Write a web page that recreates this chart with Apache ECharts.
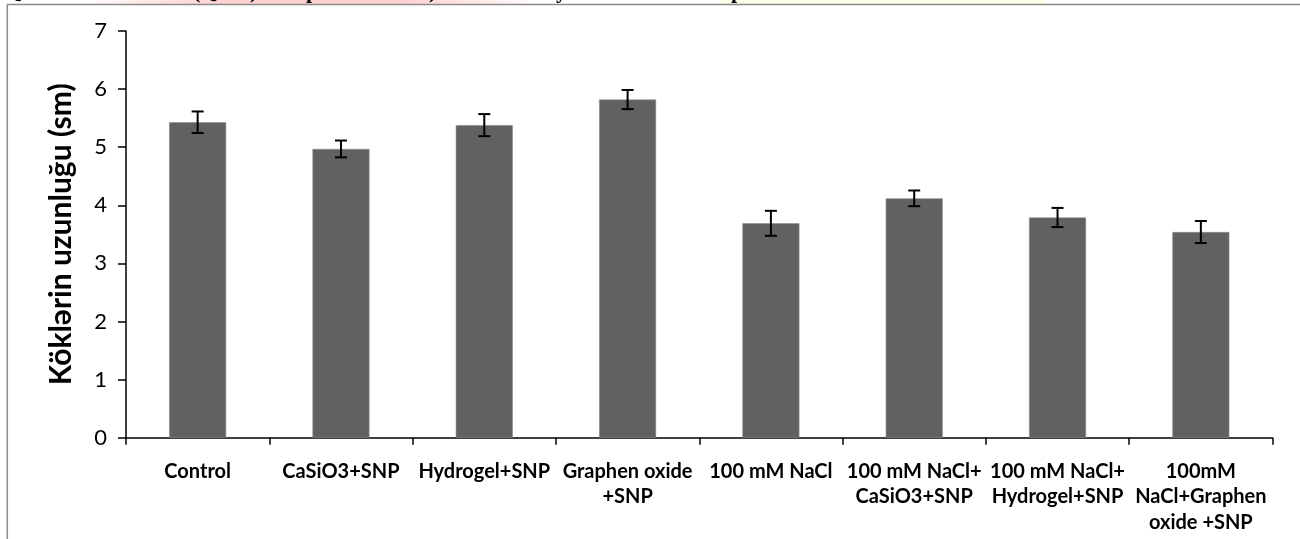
<!DOCTYPE html>
<html>
<head>
<meta charset="utf-8">
<script src="https://cdn.jsdelivr.net/npm/echarts@6/dist/echarts.min.js"></script>
<style>
html,body{margin:0;padding:0;background:#fff;}
#chart{width:1300px;height:539px;}
</style>
</head>
<body>
<div id="chart"></div>
<script>
const categories = ['Control', 'CaSiO3+SNP', 'Hydrogel+SNP', 'Graphen oxide\n+SNP', '100 mM NaCl', '100 mM NaCl+\nCaSiO3+SNP', '100 mM NaCl+\nHydrogel+SNP', '100mM\nNaCl+Graphen\noxide +SNP'];
const values = [5.43, 4.97, 5.38, 5.82, 3.69, 4.12, 3.79, 3.54];
const errors = [0.185, 0.145, 0.19, 0.165, 0.215, 0.135, 0.165, 0.19];
const yTicks = [0, 1, 2, 3, 4, 5, 6, 7];
const yTitle = 'Köklərin uzunluğu (sm)';
const headerFragments = [
  {t: 'Q', x: 5}, {t: '(Q', x: 193}, {t: ')', x: 250}, {t: 'p', x: 306},
  {t: ')', x: 429}, {t: 'y', x: 556}, {t: 'p', x: 731}
];

const chart = echarts.init(document.getElementById('chart'), null, {renderer: 'canvas'});
const FONT = 'Lato, "Open Sans", sans-serif';

const graphics = [
  {type: 'rect', silent: true, z: 0, shape: {x: 80, y: 0, width: 462, height: 5},
   style: {fill: new echarts.graphic.LinearGradient(0, 0, 1, 0, [
     {offset: 0, color: 'rgba(255,200,200,0)'},
     {offset: 0.3, color: 'rgba(255,205,205,0.9)'},
     {offset: 0.7, color: 'rgba(255,205,205,0.9)'},
     {offset: 1, color: 'rgba(255,200,200,0)'}])}},
  {type: 'rect', silent: true, z: 0, shape: {x: 721, y: 0, width: 325, height: 5},
   style: {fill: '#fdfde8'}},
  {type: 'line', silent: true, z: 1, shape: {x1: 7, y1: 4.5, x2: 1300, y2: 4.5},
   style: {stroke: '#8a8a8a', lineWidth: 1.5}},
  {type: 'line', silent: true, z: 1, shape: {x1: 7.3, y1: 4.5, x2: 7.3, y2: 539},
   style: {stroke: '#8a8a8a', lineWidth: 1.5}}
];
headerFragments.forEach(f => {
  graphics.push({type: 'text', silent: true, z: 2, x: f.x, y: -19,
    style: {text: f.t, font: 'bold 22px "Liberation Serif"', fill: '#000', verticalAlign: 'top'}});
});

const errorData = values.map((v, i) => [i, v, errors[i]]);

chart.setOption({
  animation: false,
  backgroundColor: '#ffffff',
  graphic: graphics,
  grid: {left: 126, right: 27.5, top: 31, bottom: 101.3, containLabel: false},
  xAxis: {
    type: 'category',
    data: categories,
    boundaryGap: true,
    axisLine: {lineStyle: {color: '#000', width: 1.5}},
    axisTick: {show: true, alignWithLabel: false, length: 7, lineStyle: {color: '#000', width: 1.5}},
    axisLabel: {interval: 0, color: '#000', fontFamily: FONT, fontWeight: 'bold', fontSize: 20,
      lineHeight: 25.5, margin: 21, align: 'center'}
  },
  yAxis: {
    type: 'value',
    min: 0, max: 7, interval: 1,
    splitLine: {show: false},
    axisLine: {show: true, lineStyle: {color: '#000', width: 1.5}},
    axisTick: {show: true, length: 8, lineStyle: {color: '#000', width: 1.5}},
    axisLabel: {color: '#000', fontFamily: FONT, fontSize: 22, margin: 19,
      formatter: v => yTicks.includes(v) ? String(v) : ''},
    name: yTitle,
    nameLocation: 'middle',
    nameGap: 50,
    nameRotate: 90,
    nameTextStyle: {color: '#000', fontFamily: FONT, fontWeight: 'bold', fontSize: 30}
  },
  series: [
    {
      type: 'bar',
      data: values,
      barWidth: 57,
      itemStyle: {color: '#616161', borderColor: '#8c8c8c', borderWidth: 0.6},
      z: 2
    },
    {
      type: 'custom',
      data: errorData,
      z: 5,
      renderItem: function (params, api) {
        const i = api.value(0), v = api.value(1), e = api.value(2);
        const top = api.coord([i, v + e]);
        const bot = api.coord([i, v - e]);
        const hw = 6;
        const st = {stroke: '#000', lineWidth: 2};
        return {
          type: 'group',
          children: [
            {type: 'line', shape: {x1: top[0], y1: top[1], x2: bot[0], y2: bot[1]}, style: st},
            {type: 'line', shape: {x1: top[0] - hw, y1: top[1], x2: top[0] + hw, y2: top[1]}, style: st},
            {type: 'line', shape: {x1: bot[0] - hw, y1: bot[1], x2: bot[0] + hw, y2: bot[1]}, style: st}
          ]
        };
      }
    }
  ]
});
</script>
</body>
</html>
